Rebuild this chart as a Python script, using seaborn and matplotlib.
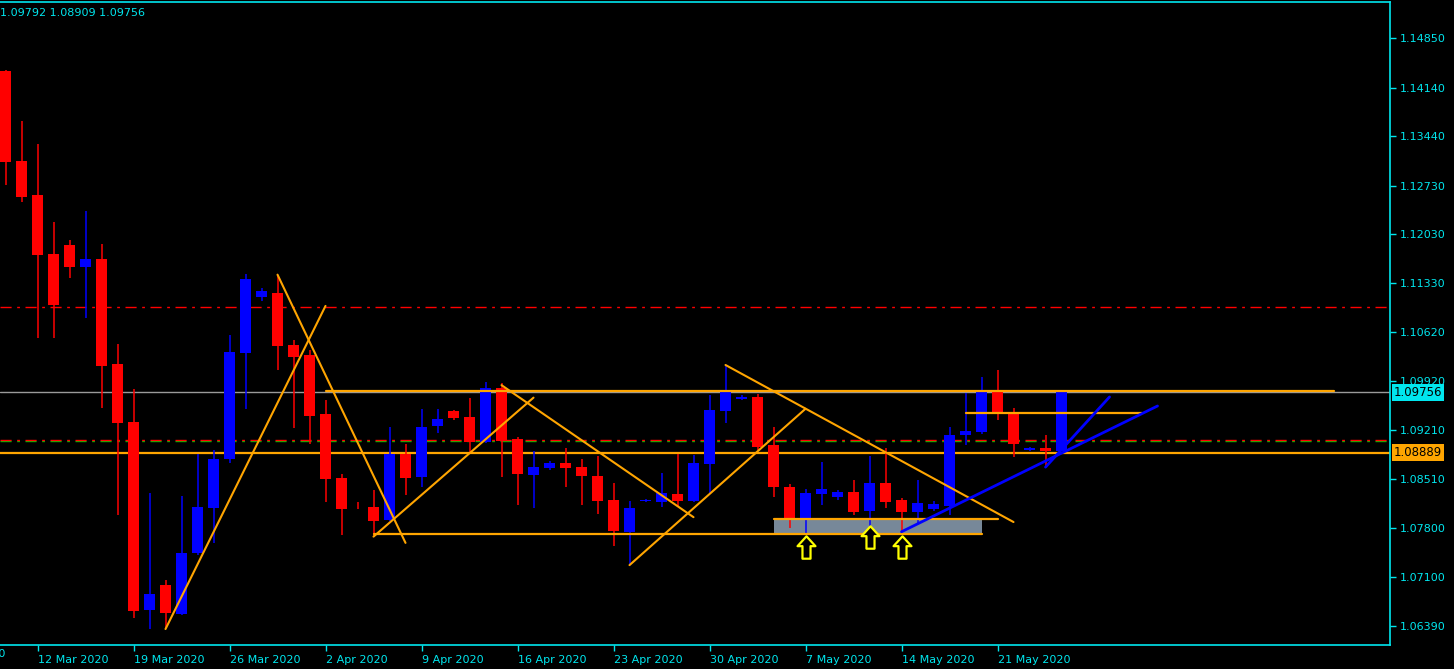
import numpy as np
import pandas as pd
import matplotlib
matplotlib.use("Agg")
import matplotlib.pyplot as plt
from matplotlib.path import Path
import seaborn as sns

# ---------------- data ----------------
opens = [1.14381, 1.13086, 1.12597, 1.11747, 1.11877, 1.11560, 1.11676, 1.10165, 1.09330, 1.06629,
         1.06984, 1.06571, 1.07445, 1.08097, 1.08798, 1.10323, 1.11129, 1.11186, 1.10438, 1.10294,
         1.09445, 1.08524, 1.08110, 1.08107, 1.07920, 1.08869, 1.08539, 1.09272, 1.09488, 1.09402,
         1.09042, 1.09819, 1.09086, 1.08568, 1.08668, 1.08740, 1.08683, 1.08553, 1.08208, 1.07747,
         1.08190, 1.08179, 1.08294, 1.08193, 1.08726, 1.09488, 1.09661, 1.09690, 1.09000, 1.08395,
         1.07920, 1.08294, 1.08251, 1.08323, 1.08050, 1.08452, 1.08208, 1.08035, 1.08078, 1.08121,
         1.09143, 1.09186, 1.09762, 1.09445, 1.08927, 1.08956, 1.08913]
highs = [1.14395, 1.13661, 1.13330, 1.12208, 1.11949, 1.12366, 1.11891, 1.10452, 1.09805, 1.08308,
         1.07056, 1.08269, 1.08869, 1.08927, 1.10582, 1.11460, 1.11258, 1.11445, 1.10510, 1.10366,
         1.09647, 1.08582, 1.08179, 1.08351, 1.09258, 1.09013, 1.09517, 1.09517, 1.09500, 1.09675,
         1.09906, 1.09892, 1.09115, 1.08913, 1.08769, 1.08956, 1.08798, 1.08841, 1.08452, 1.08193,
         1.08220, 1.08596, 1.08869, 1.08855, 1.09719, 1.10150, 1.09720, 1.09734, 1.09258, 1.08438,
         1.08366, 1.08754, 1.08350, 1.08495, 1.08841, 1.08956, 1.08237, 1.08495, 1.08193, 1.09258,
         1.09747, 1.09978, 1.10078, 1.09531, 1.08970, 1.09143, 1.09792]
lows = [1.12740, 1.12500, 1.10539, 1.10539, 1.11402, 1.10827, 1.09531, 1.07992, 1.06514, 1.06351,
        1.06366, 1.06550, 1.07416, 1.07589, 1.08740, 1.09517, 1.11071, 1.10078, 1.09244, 1.09013,
        1.08179, 1.07704, 1.08078, 1.07675, 1.07900, 1.08279, 1.08395, 1.09172, 1.09359, 1.08898,
        1.09030, 1.08539, 1.08136, 1.08092, 1.08640, 1.08395, 1.08136, 1.08006, 1.07546, 1.07272,
        1.08180, 1.08107, 1.08107, 1.08180, 1.08308, 1.09316, 1.09650, 1.08927, 1.08251, 1.07805,
        1.07733, 1.08136, 1.08210, 1.07992, 1.07820, 1.08092, 1.07762, 1.07863, 1.08050, 1.07992,
        1.09000, 1.09160, 1.09359, 1.08826, 1.08910, 1.08683, 1.08909]
closes = [1.13076, 1.12572, 1.11733, 1.11014, 1.11560, 1.11676, 1.10136, 1.09316, 1.06610, 1.06855,
          1.06581, 1.07445, 1.08107, 1.08798, 1.10337, 1.11388, 1.11215, 1.10428, 1.10265, 1.09416,
          1.08510, 1.08078, 1.08100, 1.07905, 1.08869, 1.08524, 1.09258, 1.09373, 1.09388, 1.09042,
          1.09819, 1.09057, 1.08582, 1.08683, 1.08740, 1.08668, 1.08553, 1.08193, 1.07762, 1.08092,
          1.08200, 1.08308, 1.08193, 1.08740, 1.09503, 1.09762, 1.09690, 1.08970, 1.08395, 1.07920,
          1.08308, 1.08366, 1.08323, 1.08035, 1.08452, 1.08179, 1.08035, 1.08165, 1.08150, 1.09143,
          1.09200, 1.09762, 1.09474, 1.09013, 1.08956, 1.08913, 1.09756]

first_day, last_day = "2020-03-10", "2020-05-26"
date_tick_labels = ["12 Mar 2020", "19 Mar 2020", "26 Mar 2020", "2 Apr 2020", "9 Apr 2020",
                    "16 Apr 2020", "23 Apr 2020", "30 Apr 2020", "7 May 2020", "14 May 2020",
                    "21 May 2020"]
price_ticks = [1.14850, 1.14140, 1.13440, 1.12730, 1.12030, 1.11330, 1.10620, 1.09920,
               1.09210, 1.08510, 1.07800, 1.07100, 1.06390]
header_values = ["1.09792", "1.08909", "1.09756"]

bid_price = 1.09756
support_price = 1.08889
red_levels = [1.10985, 1.09067]
green_level = 1.09060

# orange trend lines: (start bar, start price, end bar, end price)
orange_trends = [(10, 1.0635, 20, 1.1100), (17, 1.1145, 25, 1.0759), (23, 1.0768, 33, 1.0968),
                 (31, 1.0986, 43, 1.0796), (39, 1.0727, 50, 1.0952), (45, 1.1015, 63, 1.0789)]
blue_trends = [(56, 1.0775, 72, 1.0956), (65, 1.0868, 69, 1.0969)]
# orange horizontal segments: (start bar, end bar, price)
orange_segments = [(20, 83, 1.0978), (60, 71, 1.0946), (23, 61, 1.0772), (48, 62, 1.0794)]
zone = (48, 61, 1.0772, 1.0794)  # bar from, bar to, low, high
arrow_bars = [50, 54, 56]
arrow_prices = [1.0753, 1.0767, 1.0753]

# ---------------- style ----------------
sns.set_theme(style="dark", rc={"axes.facecolor": "black", "figure.facecolor": "black"})
plt.rcParams["font.family"] = ["DejaVu Sans"]
CYAN = "#00E6EE"
ORANGE = "#FFA500"

dates = [d for d in pd.date_range(first_day, last_day) if d.weekday() != 5]
n = len(opens)
df = pd.DataFrame({"date": dates[:n], "open": opens, "high": highs, "low": lows, "close": closes})
df["x"] = np.arange(n)
df["up"] = df["close"] >= df["open"]
df["color"] = np.where(df["up"], "#0000FF", "#FF0000")

fig = plt.figure(figsize=(14.54, 6.69), dpi=100)
ax = fig.add_axes([0.0, (669 - 645.3) / 669, 1390 / 1454, (645.3 - 1.5) / 669])
ax.set_facecolor("black")

# levels
ax.axhline(bid_price, color="#9A9A9A", lw=1, zorder=1)
ax.axhline(green_level, color="#00C000", lw=1, ls=(0, (8, 4, 2, 4)), zorder=1)
for lv in red_levels:
    ax.axhline(lv, color="#FF0000", lw=1, ls=(0, (8, 4, 2, 4)), zorder=1)
ax.axhline(support_price, color=ORANGE, lw=1.6, zorder=2)

# zone rectangle
ax.fill_between([zone[0], zone[1]], zone[2], zone[3], color="#778899", lw=0, zorder=1.5)

# candles
ax.vlines(df["x"], df["low"], df["high"], colors=df["color"], lw=1.1, zorder=3)
body_low = np.minimum(df["open"], df["close"])
body_h = np.maximum(np.abs(df["close"] - df["open"]), 0.00012)
ax.bar(df["x"], body_h, bottom=body_low, width=0.69, color=df["color"], lw=0, zorder=4)

# orange segments / trends
for x0, x1, p in orange_segments:
    ax.plot([x0, x1], [p, p], color=ORANGE, lw=1.6, zorder=5)
for x0, p0, x1, p1 in orange_trends:
    ax.plot([x0, x1], [p0, p1], color=ORANGE, lw=1.5, zorder=5)
for x0, p0, x1, p1 in blue_trends:
    ax.plot([x0, x1], [p0, p1], color="#0000FF", lw=2.0, zorder=6)

# arrows
arrow_path = Path([(0, 1), (0.8, 0.12), (0.36, 0.12), (0.36, -1), (-0.36, -1),
                   (-0.36, 0.12), (-0.8, 0.12), (0, 1)],
                  [Path.MOVETO] + [Path.LINETO] * 6 + [Path.CLOSEPOLY])
sns.scatterplot(x=arrow_bars, y=arrow_prices, marker=arrow_path, s=260,
                facecolor="black", edgecolor="#FFFF00", linewidth=1.6, ax=ax, zorder=7,
                legend=False)

# axes limits
ax.set_xlim(-0.344, 86.53)
ax.set_ylim(1.06116, 1.15381)

# y axis on the right
ax.yaxis.tick_right()
ax.set_yticks(price_ticks)
ax.set_yticklabels([f"{v:.5f}" for v in price_ticks])
ax.tick_params(axis="y", which="both", right=True, left=False, labelright=True, labelleft=False,
               direction="out", length=4, width=1, color=CYAN, labelcolor=CYAN, labelsize=8, pad=3)

# x axis dates
date_index = {d.strftime("%-d %b %Y"): i for i, d in enumerate(df["date"])}
xt = [date_index[lbl] for lbl in date_tick_labels]
ax.set_xticks(xt)
ax.set_xticklabels(date_tick_labels)
for lbl in ax.get_xticklabels():
    lbl.set_horizontalalignment("left")
ax.tick_params(axis="x", which="both", bottom=True, direction="out", length=4, width=1,
               color=CYAN, labelcolor=CYAN, labelsize=8, pad=3)
ax.text(xt[0] - 6, -0.006, "5 Mar 2020", transform=ax.get_xaxis_transform(), ha="left",
        va="top", color=CYAN, fontsize=8, clip_on=False)

ax.grid(False)
for side in ["top", "right", "bottom"]:
    ax.spines[side].set_color(CYAN)
    ax.spines[side].set_linewidth(1.2)
    ax.spines[side].set_visible(True)
ax.spines["left"].set_visible(False)

# right-side price boxes
ax.annotate(f"{bid_price:.5f}", xy=(1.0, bid_price), xycoords=ax.get_yaxis_transform(),
            xytext=(3, 0), textcoords="offset points", ha="left", va="center", fontsize=8.5,
            color="black", bbox=dict(boxstyle="square,pad=0.15", fc=CYAN, ec="none"),
            annotation_clip=False, zorder=10)
ax.annotate(f"{support_price:.5f}", xy=(1.0, support_price), xycoords=ax.get_yaxis_transform(),
            xytext=(3, 0), textcoords="offset points", ha="left", va="center", fontsize=8.5,
            color="black", bbox=dict(boxstyle="square,pad=0.15", fc=ORANGE, ec="none"),
            annotation_clip=False, zorder=10)

# header values
fig.text(0.0, 1 - 13 / 669, " ".join(header_values), ha="left", va="center", color=CYAN,
         fontsize=8)

fig.savefig("out.png", dpi=100, facecolor="black")
